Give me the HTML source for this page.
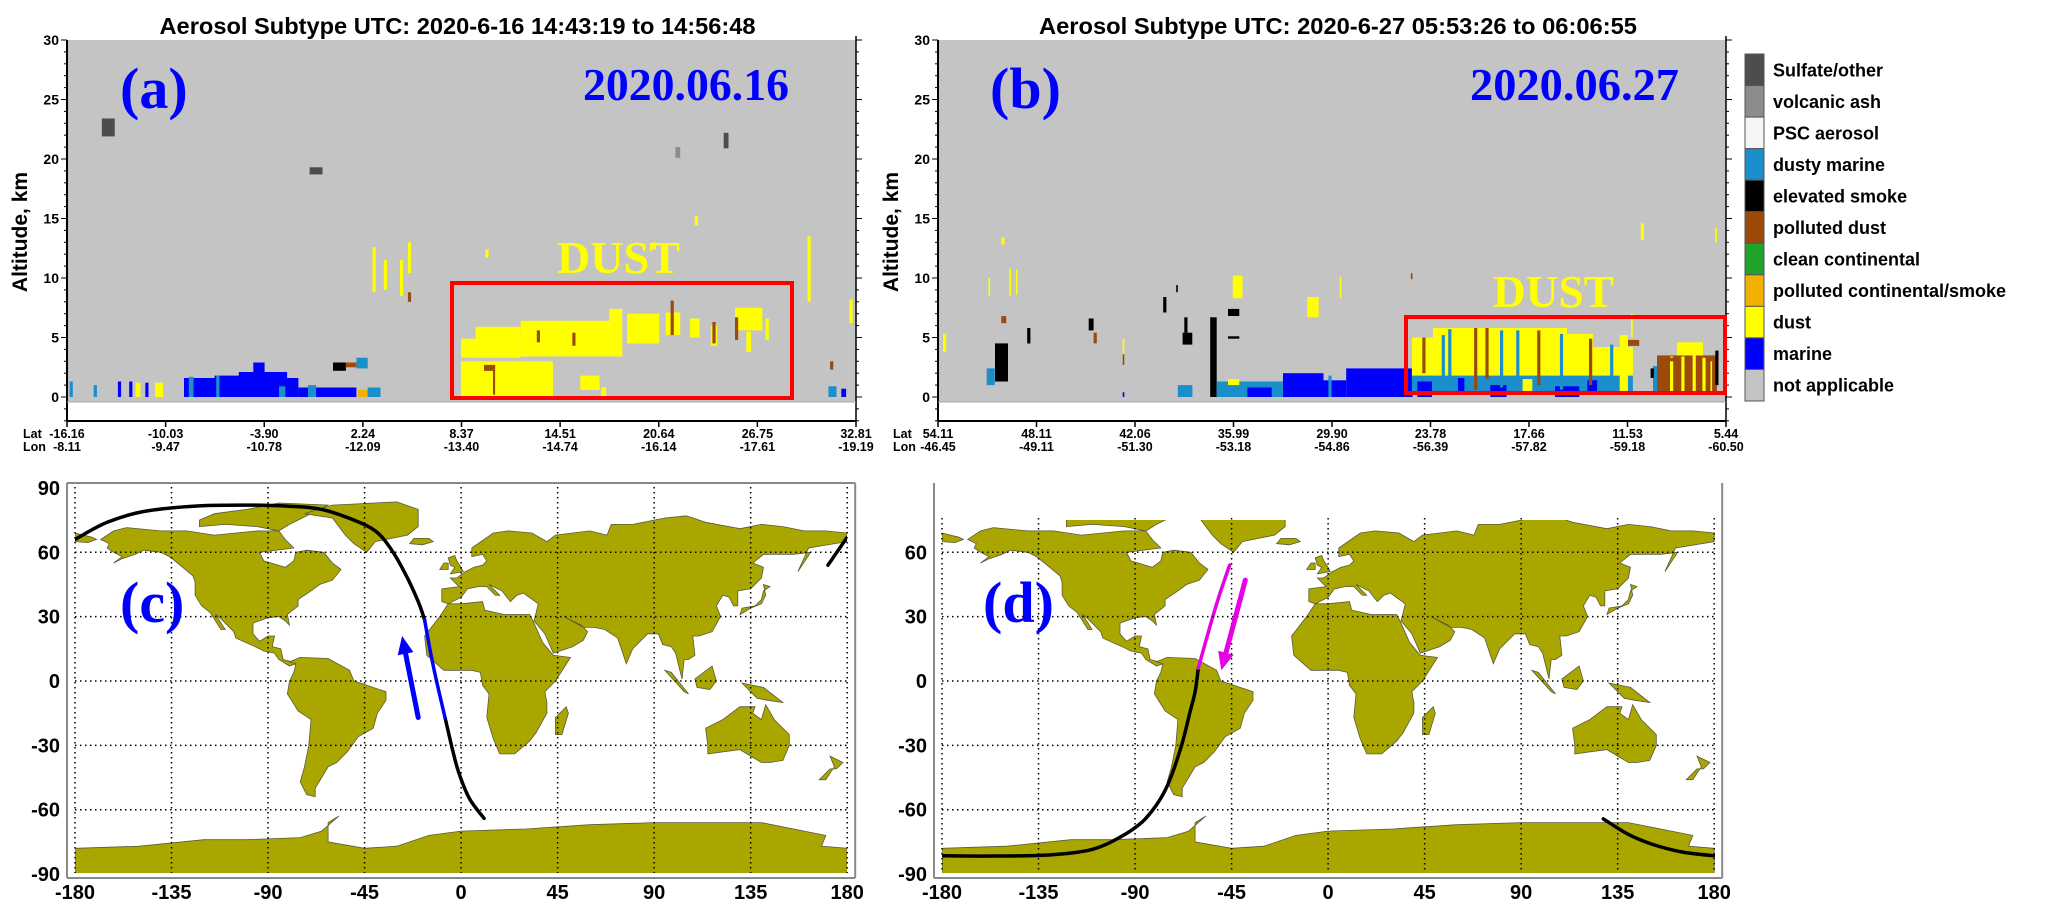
<!DOCTYPE html>
<html><head><meta charset="utf-8">
<style>
html,body{margin:0;padding:0;background:#fff;}
svg{display:block;font-family:"Liberation Sans",Arial,sans-serif;}
</style></head>
<body>
<svg id="fig" width="2067" height="919" viewBox="0 0 2067 919" xmlns="http://www.w3.org/2000/svg">
<defs>
<clipPath id="clipA"><rect x="67" y="40" width="789" height="362"/></clipPath>
<clipPath id="clipB"><rect x="938" y="40" width="788" height="362"/></clipPath>
<clipPath id="clipC"><rect x="75" y="487" width="772" height="386"/></clipPath>
<clipPath id="clipD"><rect x="942" y="520" width="773" height="353"/></clipPath>
</defs>
</svg>
<script>
// ---------- data: aerosol subtype legend ----------
const legendLabels = ["Sulfate/other","volcanic ash","PSC aerosol","dusty marine","elevated smoke","polluted dust","clean continental","polluted continental/smoke","dust","marine","not applicable"];
const legendColors = ["#4d4d4d","#8c8c8c","#f5f5f5","#1a8fcc","#000000","#9c4a0a","#1fa32a","#f2b000","#ffff00","#0000ff","#c4c4c4"];
const typeKeys = ["sulfate","volcanic","psc","dustymarine","smoke","polldust","cleancont","pollcont","dust","marine","na"];

// ---------- panel (a) axis ticks ----------
const latTicksA = ["-16.16","-10.03","-3.90","2.24","8.37","14.51","20.64","26.75","32.81"];
const lonTicksA = ["-8.11","-9.47","-10.78","-12.09","-13.40","-14.74","-16.14","-17.61","-19.19"];
const latRangeA = [-16.16, 32.81];
// ---------- panel (b) axis ticks ----------
const latTicksB = ["54.11","48.11","42.06","35.99","29.90","23.78","17.66","11.53","5.44"];
const lonTicksB = ["-46.45","-49.11","-51.30","-53.18","-54.86","-56.39","-57.82","-59.18","-60.50"];
const latRangeB = [54.11, 5.44];
const altTicks = [0,5,10,15,20,25,30];

// aerosol layers: [latStart, latEnd, altBottom(km), altTop(km), type]
const layersA = [
 [-14.0,-13.2,21.9,23.4,"sulfate"],[-1.1,-0.3,18.7,19.3,"sulfate"],[24.6,24.9,20.9,22.2,"sulfate"],[21.6,21.9,20.1,21.0,"volcanic"],
 [-8.9,-1.8,0,1.6,"marine"],[-7.0,-5.0,0,1.8,"marine"],[-5.5,-2.5,0,2.1,"marine"],[-4.6,-3.9,0,2.9,"marine"],[-1.8,1.8,0,0.8,"marine"],
 [-8.6,-8.3,0,1.7,"dustymarine"],[-6.9,-6.7,0,1.8,"dustymarine"],[-3.0,-2.6,0,0.9,"dustymarine"],[-1.2,-0.7,0,1.0,"dustymarine"],
 [-16.0,-15.8,0,1.3,"dustymarine"],[-14.5,-14.3,0,1.0,"dustymarine"],[-13.0,-12.8,0,1.3,"marine"],[-11.9,-11.6,0,1.2,"dust"],
 [-10.7,-10.2,0,1.2,"dust"],[-11.3,-11.1,0,1.2,"marine"],[-12.3,-12.1,0,1.3,"marine"],
 [0.35,1.15,2.2,2.9,"smoke"],[1.15,1.8,2.5,2.9,"polldust"],[1.8,2.5,2.4,3.3,"dustymarine"],
 [1.9,2.5,0,0.6,"pollcont"],[2.5,3.3,0,0.8,"dustymarine"],
 [8.3,14.0,0,3.0,"dust"],[8.3,12.0,3.3,4.9,"dust"],[9.2,12.0,3.3,5.9,"dust"],[12.0,18.3,3.4,6.4,"dust"],[17.5,18.3,3.4,7.4,"dust"],
 [18.6,20.6,4.5,7.0,"dust"],[21.0,21.9,5.2,7.1,"dust"],[22.5,23.1,5.0,6.6,"dust"],[25.3,27.0,5.6,7.5,"dust"],[23.8,24.2,4.3,6.0,"dust"],
 [26.0,26.3,3.8,5.5,"dust"],[27.2,27.4,4.8,6.6,"dust"],
 [9.72,10.41,2.2,2.7,"polldust"],[10.28,10.41,0.2,2.7,"polldust"],[21.3,21.5,5.2,8.1,"polldust"],[23.9,24.1,4.5,6.3,"polldust"],
 [25.3,25.5,4.8,6.7,"polldust"],[15.2,15.4,4.3,5.4,"polldust"],[13.0,13.2,4.6,5.6,"polldust"],
 [15.7,16.9,0.6,1.8,"dust"],[17.0,17.3,0,0.8,"dust"],
 [2.8,3.0,8.8,12.6,"dust"],[3.5,3.7,9.0,11.5,"dust"],[4.5,4.7,8.5,11.5,"dust"],[5.0,5.2,10.4,13.0,"dust"],[5.0,5.2,8.0,8.8,"polldust"],
 [9.8,10.0,11.7,12.4,"dust"],[20.2,20.4,12.4,13.0,"dust"],[22.8,23.0,14.4,15.2,"dust"],[29.8,30.0,8.0,13.5,"dust"],
 [31.1,31.6,0,0.9,"dustymarine"],[31.9,32.2,0,0.7,"marine"],[31.2,31.4,2.3,3.0,"polldust"],[32.4,32.6,6.2,8.2,"dust"]
];
const layersB = [
 [50.59,49.79,1.3,4.5,"smoke"],[48.6,48.4,4.5,5.8,"smoke"],[44.8,44.5,5.6,6.6,"smoke"],[40.2,40.0,7.1,8.4,"smoke"],
 [39.4,39.3,8.8,9.4,"smoke"],[39.0,38.4,4.4,5.4,"smoke"],[38.9,38.7,5.4,6.7,"smoke"],[37.3,36.9,0,6.7,"smoke"],
 [36.2,35.5,6.8,7.4,"smoke"],[36.2,35.5,4.9,5.1,"smoke"],
 [50.2,50.0,12.8,13.4,"dust"],[49.7,49.6,8.5,10.8,"dust"],[49.3,49.2,8.6,10.7,"dust"],[51.0,50.9,8.5,10.0,"dust"],
 [35.9,35.3,8.3,10.2,"dust"],[31.3,30.6,6.7,8.4,"dust"],[29.3,29.2,8.3,10.1,"dust"],[42.7,42.6,3.6,4.9,"dust"],
 [42.7,42.6,2.7,3.6,"polldust"],[50.2,49.9,6.2,6.8,"polldust"],[24.9,24.8,9.9,10.4,"polldust"],[44.5,44.3,4.5,5.4,"polldust"],
 [10.7,10.5,13.2,14.6,"dust"],[6.1,6.0,13.0,14.2,"dust"],[53.8,53.6,3.8,5.3,"dust"],
 [51.1,50.6,1.0,2.4,"dustymarine"],[39.3,38.4,0,1.0,"dustymarine"],[42.7,42.6,0,0.4,"marine"],
 [36.9,32.8,0,1.3,"dustymarine"],[36.2,35.5,1.0,1.5,"dust"],[35.0,33.5,0,0.8,"marine"],
 [32.8,30.3,0,2.0,"marine"],[30.3,28.9,0,1.4,"marine"],[28.9,24.8,0,2.4,"marine"],[30.0,29.8,0,1.8,"dustymarine"],
 [24.84,23.54,1.5,5.0,"dust"],[23.54,15.26,1.5,5.8,"dust"],[15.26,13.66,1.7,5.3,"dust"],[13.66,11.19,1.5,4.2,"dust"],
 [24.84,11.19,0.4,1.8,"dustymarine"],[24.5,23.6,0,1.3,"marine"],[20.0,19.0,0,1.0,"marine"],[16.0,14.5,0,0.9,"marine"],
 [22.0,21.6,0.4,1.6,"marine"],[18.0,17.4,0.4,1.5,"dust"],[14.0,13.4,0.4,1.4,"marine"],[12.0,11.6,0.4,1.7,"dust"],
 [22.6,22.4,0.6,5.7,"dustymarine"],[21.0,20.8,0.6,5.8,"polldust"],[20.3,20.1,1.5,5.8,"polldust"],[18.4,18.2,0.6,5.6,"dustymarine"],
 [17.1,16.9,1.0,5.6,"polldust"],[15.7,15.5,0.6,5.3,"dustymarine"],[13.9,13.7,1.0,4.9,"polldust"],[12.6,12.4,0.6,4.4,"dustymarine"],
 [24.2,24.0,2.0,5.0,"polldust"],[23.0,22.8,0.6,5.2,"dustymarine"],[19.4,19.2,0.8,5.6,"dustymarine"],
 [9.95,8.28,0.5,2.6,"dustymarine"],[9.7,6.0,0.3,3.5,"polldust"],[8.47,6.86,3.5,4.6,"dust"],
 [8.9,8.7,0.5,3.4,"dust"],[8.2,8.0,0.4,3.4,"dust"],[7.5,7.3,0.4,3.5,"dust"],[6.9,6.7,0.4,3.3,"dust"],[6.4,6.3,0.4,3.0,"dust"],
 [10.1,9.9,1.6,2.4,"smoke"],[6.1,5.9,1.0,3.9,"smoke"],[9.5,8.5,3.0,3.3,"polldust"],[11.5,10.8,4.3,4.8,"polldust"],
 [12.0,11.5,0.3,5.2,"dust"],[11.3,11.2,5.0,7.0,"dust"]
];

// ---------- map data ----------
const lonTicks = [-180,-135,-90,-45,0,45,90,135,180];
const latTicksC = [90,60,30,0,-30,-60,-90];
const latTicksD = [60,30,0,-30,-60,-90];
const continents = {
 "north-america":[[-168,66],[-162,70],[-156,71.5],[-140,70],[-128,70],[-115,68],[-95,70],[-85,70],[-82,66],[-78,62],[-94,60],[-92,56],[-82,53],[-78,56],[-77,60],[-72,61],[-64,60],[-60,55],[-56,52],[-60,47],[-66,45],[-70,42],[-76,38],[-76,35],[-81,31],[-80,26],[-82,28],[-85,30],[-90,29.5],[-97,27],[-97,22],[-94,18.5],[-90,21],[-87,21],[-88,16],[-84,15],[-83,10],[-79,9],[-77,8],[-80,7],[-85,10],[-87,13],[-92,14],[-96,16],[-105,20],[-106,23],[-112,29],[-114.5,31],[-110,24],[-112,24],[-117,32],[-121,35],[-124,40],[-124,46],[-125,49],[-131,54],[-136,58],[-140,60],[-148,61],[-152,59],[-158,57],[-162,55],[-158,58],[-162,60],[-165,62],[-164,64],[-168,66]],
 "arctic-islands":[[-122,72],[-110,73],[-95,72],[-85,70],[-80,73],[-62,82],[-85,83],[-100,80],[-115,78],[-122,75]],
 "greenland":[[-73,78],[-60,82],[-30,83.5],[-20,80],[-20,72],[-25,68],[-40,65],[-44,60],[-50,64],[-54,68],[-60,76],[-73,78]],
 "iceland":[[-24,64],[-22,66.5],[-15,66.5],[-13,65],[-18,63.5]],
 "south-america":[[-80,9],[-75,11],[-62,10.5],[-52,5],[-50,0],[-44,-2],[-35,-5],[-35,-9],[-39,-15],[-41,-22],[-48,-26],[-53,-33],[-58,-38],[-62,-40],[-65,-45],[-68,-50],[-68,-54],[-72,-53],[-75,-47],[-73,-40],[-71,-30],[-70,-18],[-76,-14],[-81,-6],[-80,0],[-78,4],[-77,8],[-80,9]],
 "africa":[[-17,21],[-16,12],[-8,5],[5,5],[9,4],[10,-2],[13,-6],[12,-17],[15,-27],[18,-34],[25,-34],[32,-28],[35,-24],[40,-15],[40,-10],[39,-5],[44,0],[51,11],[43,12],[38,18],[34,27],[32,31],[20,31],[11,33],[10,37],[0,36],[-6,36],[-10,30],[-17,21]],
 "eurasia":[[-9,43],[-9,37],[-6,36],[0,39],[3,43],[8,44],[12,44],[16,40],[18,40],[13,45],[19,42],[23,37],[26,40],[29,41],[36,36],[35,32],[34,28],[39,22],[43,13],[52,16],[57,19],[59,23],[56,26],[50,29],[48,30],[57,25],[62,25],[67,24],[73,20],[77,8],[80,15],[87,22],[92,22],[94,17],[98,16],[100,13],[103,1],[104,10],[106,10],[109,12],[108,21],[111,21],[117,23],[121,30],[119,35],[122,40],[125,39],[127,35],[129,35],[129,42],[135,43],[140,48],[141,53],[136,55],[141,59],[150,59],[155,59],[163,60],[157,51],[162,62],[180,65],[180,69],[170,70],[160,70],[150,72],[140,73],[130,71],[114,74],[105,77],[95,76],[80,73],[70,73],[68,68],[60,70],[44,68],[40,65],[33,69],[22,70],[15,69],[5,62],[5,58],[10,59],[12,56],[10,54],[6,53],[2,51],[-2,48],[-5,48],[-1,44],[-9,43]],
 "chukotka":[[-180,65],[-180,69],[-172,67],[-170,66],[-174,64.5]],
 "britain":[[-5,50],[1,51],[0,53],[-2,56],[-3,58.5],[-6,57.5],[-5,54],[-3,53],[-5,50]],
 "ireland":[[-10,52],[-6,52],[-6,55],[-8,55]],
 "japan":[[130,31],[135,34],[140,36],[142,40],[141,45],[144,44],[141,42],[140,38],[137,35],[131,34]],
 "madagascar":[[44,-25],[47,-25],[50,-15],[49,-12],[44,-17]],
 "sumatra":[[95,5],[98,4],[106,-6],[104,-5]],
 "borneo":[[109,1],[117,7],[119,0],[116,-4],[110,-3]],
 "new-guinea":[[131,-1],[141,-3],[150,-10],[143,-9],[138,-8]],
 "australia":[[114,-22],[122,-18],[130,-12],[137,-12],[136,-15],[140,-18],[142,-11],[146,-18],[153,-25],[153,-30],[150,-37],[144,-38],[140,-38],[135,-35],[130,-32],[115,-34],[115,-30]],
 "new-zealand":[[172,-35],[178,-38],[175,-41],[172,-41],[167,-46],[170,-46],[174,-40]],
 "antarctica":[[-180,-78],[-150,-77],[-120,-74],[-100,-74],[-75,-73],[-65,-70],[-57,-63],[-62,-66],[-62,-75],[-45,-78],[-30,-77],[-15,-72],[0,-70],[30,-69],[60,-67],[90,-66],[120,-66],[140,-66],[160,-70],[170,-72],[168,-77],[180,-78],[180,-90],[-180,-90]]
};
// satellite track (lon, lat)
const trackC = [[-180,66],[-165,74],[-148,79],[-125,81.5],[-103,82],[-80,81.5],[-65,80],[-50,75],[-40,70],[-33,62],[-26,50],[-20,37],[-17,28.5]];
const trackCBlue = [[-17,28.5],[-14,12],[-11,-2],[-7.5,-17]];
const trackCEnd = [[-7.5,-17],[-4,-32],[-1,-43],[4,-55],[10.7,-64]];
const trackCWrap = [[171,54],[180,67]];
const arrowC = [[-20,-17],[-27.5,21]];
const trackD = [[-180,-81.5],[-155,-81.6],[-128.8,-81],[-110,-78.5],[-96.6,-72.6],[-87,-66],[-80.6,-58.6],[-76,-51],[-72.6,-43],[-68,-29],[-64.5,-15],[-62,-5],[-60.5,6]];
const trackDMag = [[-60.5,6],[-55.5,24],[-51,39],[-45.9,54]];
const trackDWrap = [[128.3,-64.3],[140,-71.5],[152,-76.4],[165,-79.7],[180,-81.5]];
const arrowD = [[-38.6,47],[-49.8,5]];

// ---------- drawing ----------
const NS="http://www.w3.org/2000/svg";
const svg=document.getElementById("fig");
function mk(tag,attrs,parent){const e=document.createElementNS(NS,tag);for(const k in attrs)e.setAttribute(k,attrs[k]);(parent||svg).appendChild(e);return e;}
function txt(s,attrs,parent){const e=mk("text",attrs,parent);e.textContent=s;return e;}
const colorOf=t=>legendColors[typeKeys.indexOf(t)];

const Y0=397, KM=11.9;
const yAlt=a=>Y0-a*KM;
function curtain(id,letter,x0,x1,latR,latT,lonT,layers,clip,title,dateStr,dateX,dust,box,labX){
 const g=mk("g",{});
 
 
 const xL=lat=>x0+(lat-latR[0])/(latR[1]-latR[0])*(x1-x0);
 const bg=mk("rect",{x:x0,y:40,width:x1-x0,height:362,fill:"#c4c4c4"},g);
 
 
 const lg=mk("g",{"clip-path":"url(#"+clip+")"},g);
 for(const L of layers){
  const xa=Math.min(xL(L[0]),xL(L[1])), xb=Math.max(xL(L[0]),xL(L[1]));
  const r=mk("rect",{x:xa.toFixed(1),y:yAlt(L[3]).toFixed(1),width:Math.max(1.5,xb-xa).toFixed(1),height:((L[3]-L[2])*KM).toFixed(1),fill:colorOf(L[4])},lg);
  
  
 }
 mk("line",{x1:x0,y1:40,x2:x0,y2:421,stroke:"#000","stroke-width":2},g);
 mk("line",{x1:x1,y1:36,x2:x1,y2:421,stroke:"#000","stroke-width":1.5},g);
 mk("line",{x1:x0,y1:421,x2:x1,y2:421,stroke:"#000","stroke-width":2},g);
 mk("line",{x1:x0,y1:402,x2:x1,y2:402,stroke:"#aaa","stroke-width":1},g);
 for(let k=-2;k<=30;k++){
  const y=yAlt(k), big=k%5===0;
  mk("line",{x1:x0-(big?6:3),y1:y,x2:x0,y2:y,stroke:"#000","stroke-width":1},g);
  mk("line",{x1:x1,y1:y,x2:x1+(big?6:3),y2:y,stroke:"#000","stroke-width":1},g);
 }
 for(const a of altTicks){
  const t=txt(String(a),{x:x0-8,y:yAlt(a)+5,"text-anchor":"end","font-size":14,"font-weight":"bold"},g);
  
  
 }
 latT.forEach((s,i)=>{
  const x=x0+i*(x1-x0)/(latT.length-1);
  mk("line",{x1:x,y1:421,x2:x,y2:427,stroke:"#000","stroke-width":1.5},g);
  const t1=txt(s,{x:x,y:438,"text-anchor":"middle","font-size":12.5,"font-weight":"bold"},g);
  
  
  const t2=txt(lonT[i],{x:x,y:451,"text-anchor":"middle","font-size":12.5,"font-weight":"bold"},g);
  
  
 });
 const la=txt("Lat",{x:labX,y:438,"font-size":12.5,"font-weight":"bold"},g);
 
 
 const lo=txt("Lon",{x:labX,y:451,"font-size":12.5,"font-weight":"bold"},g);
 
 
 const yt=txt("Altitude, km",{x:0,y:0,"text-anchor":"middle","font-size":21,"font-weight":"bold",transform:"translate("+(x0-40)+",232) rotate(-90)"},g);
 
 
 const tt=txt(title,{x:(x0+x1)/2+(id==="a"?-4:6),y:34,"text-anchor":"middle","font-size":23,"font-weight":"bold",textLength:id==="a"?596:598,lengthAdjust:"spacingAndGlyphs"},g);
 
 
 const pl=txt("("+letter+")",{x:letter==="a"?120:990,y:108,"font-family":"Liberation Serif,serif","font-size":58,"font-weight":"bold",fill:"#0000ff"},g);
 
 
 const dt=txt(dateStr,{x:dateX[0],y:100,"font-family":"Liberation Serif,serif","font-size":46,"font-weight":"bold",fill:"#0000ff",textLength:dateX[1]-dateX[0],lengthAdjust:"spacingAndGlyphs"},g);
 
 
 const dl=txt("DUST",{x:dust[0],y:dust[1],"font-family":"Liberation Serif,serif","font-size":46,"font-weight":"bold",fill:"#ffff00",textLength:dust[2],lengthAdjust:"spacingAndGlyphs"},g);
 
 
 const bx=mk("rect",{x:box[0],y:box[1],width:box[2]-box[0],height:box[3]-box[1],fill:"none",stroke:"#ff0000","stroke-width":4},g);
 
 
}
curtain("a","a",67,856,latRangeA,latTicksA,lonTicksA,layersA,"clipA","Aerosol Subtype  UTC: 2020-6-16  14:43:19 to 14:56:48","2020.06.16",[583,789],[557,273,123],[452,283,792,398],23);
curtain("b","b",938,1726,latRangeB,latTicksB,lonTicksB,layersB,"clipB","Aerosol Subtype  UTC: 2020-6-27  05:53:26 to 06:06:55","2020.06.27",[1470,1679],[1493,307,121],[1406,317,1725,393],893);

// legend
const lgG=mk("g",{});


const segH=(401-54)/legendLabels.length;
legendLabels.forEach((s,i)=>{
 const y=54+i*segH;
 const r=mk("rect",{x:1745,y:y,width:19,height:segH,fill:legendColors[i],stroke:"#555","stroke-width":1},lgG);
 
 
 const t=txt(s,{x:1773,y:y+segH/2+6.5,"font-size":18,"font-weight":"bold"},lgG);
 
 
});

// smooth path through points (Catmull-Rom)
function smoothPath(P){
 let d="M"+P[0][0].toFixed(1)+","+P[0][1].toFixed(1);
 for(let i=0;i<P.length-1;i++){
  const p0=P[Math.max(0,i-1)],p1=P[i],p2=P[i+1],p3=P[Math.min(P.length-1,i+2)];
  const c1=[p1[0]+(p2[0]-p0[0])/6,p1[1]+(p2[1]-p0[1])/6];
  const c2=[p2[0]-(p3[0]-p1[0])/6,p2[1]-(p3[1]-p1[1])/6];
  d+=" C"+c1[0].toFixed(1)+","+c1[1].toFixed(1)+" "+c2[0].toFixed(1)+","+c2[1].toFixed(1)+" "+p2[0].toFixed(1)+","+p2[1].toFixed(1);
 }
 return d;
}

// maps
function drawMap(id,x0,clip,latT,frameTop,track,hi,hiColor,wrap,arrow,arrowColor,letterX){
 const S=2.145, cx=x0+180*S;
 const px=l=>cx+l*S, py=l=>681-l*S;
 const g=mk("g",{});
 
 
 const cg=mk("g",{"clip-path":"url(#"+clip+")"},g);
 for(const name in continents){
  const p=mk("polygon",{points:continents[name].map(q=>px(q[0]).toFixed(1)+","+py(q[1]).toFixed(1)).join(" "),fill:"#aaa600",stroke:"#5a5a3a","stroke-width":0.8},cg);
  
  
 }
 for(const l of lonTicks){
  mk("line",{x1:px(l),y1:Math.max(frameTop,487),x2:px(l),y2:873,stroke:"#000","stroke-width":1.5,"stroke-dasharray":"1.5,3.5"},g);
  const t=txt(String(l),{x:px(l),y:899,"text-anchor":"middle","font-size":20,"font-weight":"bold"},g);
  
  
 }
 for(const l of latT){
  if(l>-90&&l<90) mk("line",{x1:px(-180),y1:py(l),x2:px(180),y2:py(l),stroke:"#000","stroke-width":1.5,"stroke-dasharray":"1.5,3.5"},g);
  const t=txt(String(l),{x:x0-15,y:py(l)+7,"text-anchor":"end","font-size":20,"font-weight":"bold"},g);
  
  
 }
 const fr=x0-8, fr2=px(180)+8;
 if(frameTop<=487) mk("line",{x1:fr,y1:483,x2:fr2,y2:483,stroke:"#888","stroke-width":2},g);
 mk("line",{x1:fr,y1:Math.min(frameTop,483),x2:fr,y2:878,stroke:"#888","stroke-width":2},g);
 mk("line",{x1:fr2,y1:Math.min(frameTop,483),x2:fr2,y2:878,stroke:"#888","stroke-width":2},g);
 mk("line",{x1:fr,y1:878,x2:fr2,y2:878,stroke:"#888","stroke-width":2},g);
 const line=(pts,col,w,nm)=>{
  const pl=mk("path",{d:smoothPath(pts.map(q=>[px(q[0]),py(q[1])])),fill:"none",stroke:col,"stroke-width":w,"stroke-linejoin":"round","stroke-linecap":"round"},cg);
  
  
 };
 track.forEach(t=>line(t,"#000",3.5,"satellite-track"));
 line(hi,hiColor,3.5,"track-highlight");
 line(wrap,"#000",3.5,"satellite-track-wrap");
 const a0=[px(arrow[0][0]),py(arrow[0][1])], a1=[px(arrow[1][0]),py(arrow[1][1])];
 const dx=a1[0]-a0[0], dy=a1[1]-a0[1], L=Math.hypot(dx,dy), ux=dx/L, uy=dy/L;
 const bx=a1[0]-ux*18, by=a1[1]-uy*18;
 const al=mk("line",{x1:a0[0],y1:a0[1],x2:bx,y2:by,stroke:arrowColor,"stroke-width":5,"stroke-linecap":"round"},g);
 
 
 const ah=mk("polygon",{points:[a1,[bx-uy*8,by+ux*8],[bx+uy*8,by-ux*8]].map(p=>p[0].toFixed(1)+","+p[1].toFixed(1)).join(" "),fill:arrowColor},g);
 
 
 const lt=txt("("+id+")",{x:letterX,y:622,"font-family":"Liberation Serif,serif","font-size":58,"font-weight":"bold",fill:"#0000ff"},g);
 
 
}
drawMap("c",75,"clipC",latTicksC,483,[trackC,trackCEnd],trackCBlue,"#0000ff",trackCWrap,arrowC,"#0000ff",120);
drawMap("d",942,"clipD",latTicksD,518,[trackD],trackDMag,"#e600e6",trackDWrap,arrowD,"#e600e6",983);
</script>
</body></html>
